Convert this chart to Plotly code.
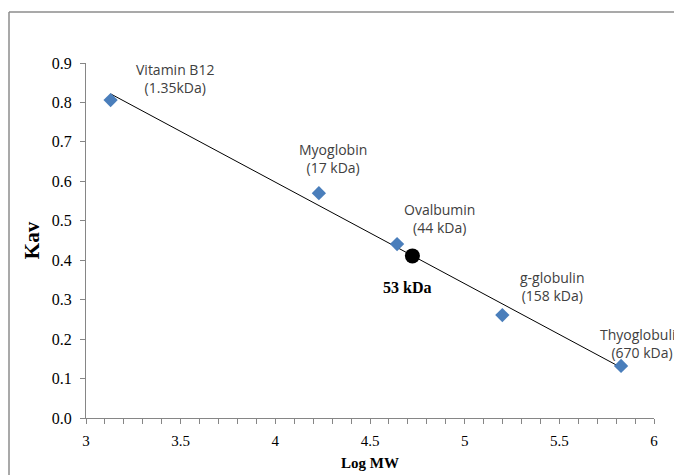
import numpy as np
import plotly.graph_objects as go

# Data
proteins = ["Vitamin B12", "Myoglobin", "Ovalbumin", "g-globulin", "Thyoglobulin"]
mw_labels = ["(1.35kDa)", "(17 kDa)", "(44 kDa)", "(158 kDa)", "(670 kDa)"]
log_mw = [3.13, 4.23, 4.643, 5.199, 5.826]
kav = [0.806, 0.570, 0.441, 0.261, 0.132]
unknown_name = "53 kDa"
unknown_log_mw = [4.724]
unknown_kav = [0.411]

# label positions (data coords)
label_x = [3.470, 4.305, 4.867, 5.461, 5.935]
label_y = [0.860, 0.657, 0.507, 0.333, 0.190]
unknown_label_xy = (4.698, 0.332)

slope, intercept = np.polyfit(log_mw, kav, 1)
fit_x = [min(log_mw), max(log_mw)]
fit_y = [slope * v + intercept for v in fit_x]

fig = go.Figure()
fig.add_trace(go.Scatter(x=fit_x, y=fit_y, mode="lines",
                         line=dict(color="black", width=1), showlegend=False, hoverinfo="skip"))
fig.add_trace(go.Scatter(x=log_mw, y=kav, mode="markers",
                         marker=dict(symbol="diamond", size=11, color="#4A7EBB"),
                         showlegend=False))
fig.add_trace(go.Scatter(x=unknown_log_mw, y=unknown_kav, mode="markers",
                         marker=dict(symbol="circle", size=15, color="black"),
                         showlegend=False))

for name, mwl, lx, ly in zip(proteins, mw_labels, label_x, label_y):
    fig.add_annotation(x=lx, y=ly, xref="x", yref="y", text=f"{name}<br>{mwl}",
                       showarrow=False, xanchor="center", yanchor="middle",
                       font=dict(family="Open Sans", size=14, color="#404040"))
fig.add_annotation(x=unknown_label_xy[0], y=unknown_label_xy[1], xref="x", yref="y",
                   text=f"<b>{unknown_name}</b>", showarrow=False,
                   font=dict(family="Liberation Serif", size=16, color="black"))

axis_color = "#868686"
fig.update_xaxes(range=[3, 6], dtick=0.5, tick0=3, showgrid=False, zeroline=False, automargin=False,
                 showline=True, linecolor=axis_color, linewidth=1,
                 ticks="outside", ticklen=5, tickcolor=axis_color, ticklabelstandoff=4,
                 minor=dict(dtick=0.1, ticks="outside", ticklen=5, tickcolor=axis_color, showgrid=False),
                 tickfont=dict(family="Liberation Serif", size=15, color="black"),
                 title=dict(text="<b>Log MW</b>", font=dict(family="Liberation Serif", size=15, color="black"), standoff=9))
fig.update_yaxes(range=[0, 0.9], dtick=0.1, tick0=0, tickformat=".1f", showgrid=False, zeroline=False, automargin=False,
                 showline=True, linecolor=axis_color, linewidth=1,
                 ticks="outside", ticklen=5, tickcolor=axis_color, ticklabelstandoff=5,
                 tickfont=dict(family="Liberation Serif", size=16, color="black"),
                 title=dict(text="<b>Kav</b>", font=dict(family="Liberation Serif", size=21, color="black"), standoff=6))

# outer chart border (top and left edges visible)
L, R, T, B = 86, 20, 63, 57
W, H = 674, 475
pw, ph = W - L - R, H - T - B
bx = (9 - L) / pw
by = (H - B - 12) / ph
fig.add_shape(type="line", xref="paper", yref="paper", x0=bx, x1=(W + 5 - L) / pw, y0=by, y1=by,
              line=dict(color="#8c8c8c", width=1.5))
fig.add_shape(type="line", xref="paper", yref="paper", x0=bx, x1=bx, y0=by, y1=(H + 5 - (H - B)) / -ph,
              line=dict(color="#8c8c8c", width=1.5))

fig.update_layout(width=W, height=H, margin=dict(l=L, r=R, t=T, b=B),
                  plot_bgcolor="white", paper_bgcolor="white")
fig.write_html("out.html")
